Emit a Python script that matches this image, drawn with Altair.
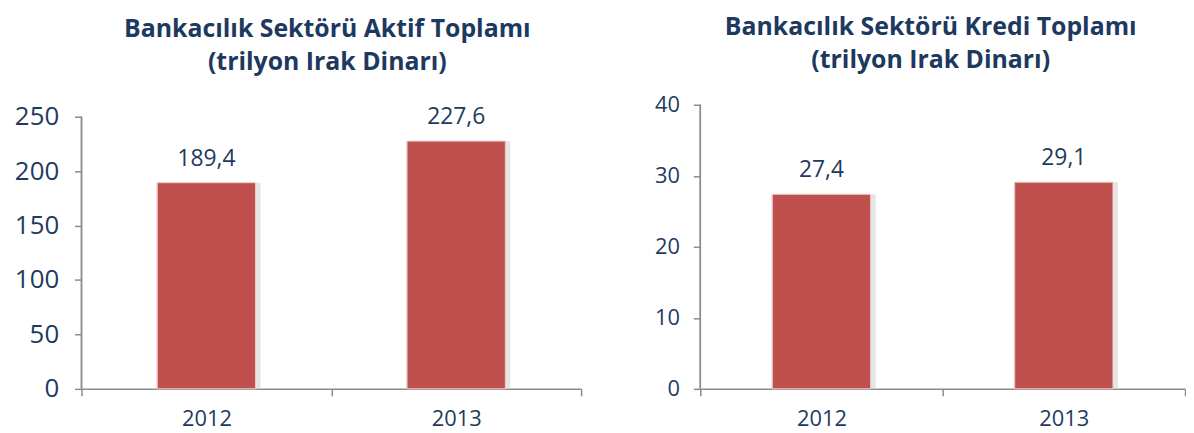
import altair as alt
import pandas as pd

years = ["2012", "2013"]
aktif = [189.4, 227.6]
kredi = [27.4, 29.1]
aktif_ticks = [0, 50, 100, 150, 200, 250]
kredi_ticks = [0, 10, 20, 30, 40]
title_aktif = ["Bankacılık Sektörü Aktif Toplamı", "(trilyon Irak Dinarı)"]
title_kredi = ["Bankacılık Sektörü Kredi Toplamı", "(trilyon Irak Dinarı)"]

TEXT = "#1f3a5f"
TITLE = "#1d3960"
BAR = "#c0504d"
AXIS = "#8c8c8c"

PLOT_H = 286


def panel(values, ticks, title, width, axis_px, yfs, yext, ylabpad, toff, tdx):
    df = pd.DataFrame({"year": years, "value": values})
    # top of the scale so that the last tick sits axis_px above the baseline
    top = ticks[-1] * PLOT_H / axis_px
    x = alt.X(
        "year:N",
        scale=alt.Scale(paddingInner=0, paddingOuter=0),
        axis=alt.Axis(
            title=None, labelAngle=0, tickBand="extent", tickSize=7,
            labelPadding=13, labelFontSize=22, minExtent=44, maxExtent=44,
            domainColor=AXIS, tickColor=AXIS, labelColor=TEXT,
            domainWidth=1.5, tickWidth=1.5,
        ),
    )
    y = alt.Y(
        "value:Q",
        scale=alt.Scale(domain=[ticks[0], top], nice=False, zero=True),
        axis=alt.Axis(
            title=None, values=ticks, grid=False, tickSize=7, domain=False,
            labelPadding=ylabpad, labelFontSize=yfs, minExtent=yext,
            maxExtent=yext, tickColor=AXIS, labelColor=TEXT, tickWidth=1.5,
        ),
    )
    base = alt.Chart(df).encode(x=x, y=y)
    yaxis_line = alt.Chart(df).mark_rule(color=AXIS, strokeWidth=1.5).encode(
        x=alt.value(0), y=alt.datum(ticks[0]), y2=alt.datum(ticks[-1])
    )
    shadow = base.mark_bar(size=105, color="#d4d4d4", opacity=0.6, xOffset=2)
    bars = base.mark_bar(size=99, color=BAR, stroke="#efcfce", strokeWidth=1)
    labels = base.mark_text(
        dy=-24, fontSize=23, color=TEXT, baseline="middle"
    ).transform_calculate(
        lbl="replace(format(datum.value, '.1f'), '.', ',')"
    ).encode(text="lbl:N")
    return alt.layer(shadow, bars, labels, yaxis_line).properties(
        width=width,
        height=PLOT_H,
        title=alt.TitleParams(
            title, fontSize=25, fontWeight="bold", color=TITLE,
            lineHeight=33, anchor="middle", frame="group", offset=toff,
            dx=tdx,
        ),
    )


left = panel(aktif, aktif_ticks, title_aktif, 503, 274, 26, 74, 16, 29, -4)
right = panel(kredi, kredi_ticks, title_kredi, 488, 286, 22, 60, 14, 21, -12)

chart = alt.hconcat(
    left, right, spacing=59,
    padding={"left": 0, "top": 6, "right": 0, "bottom": 0},
).configure(font="Open Sans").configure_view(stroke=None)

chart.save("out.html", embed_options={"renderer": "svg", "actions": False})
